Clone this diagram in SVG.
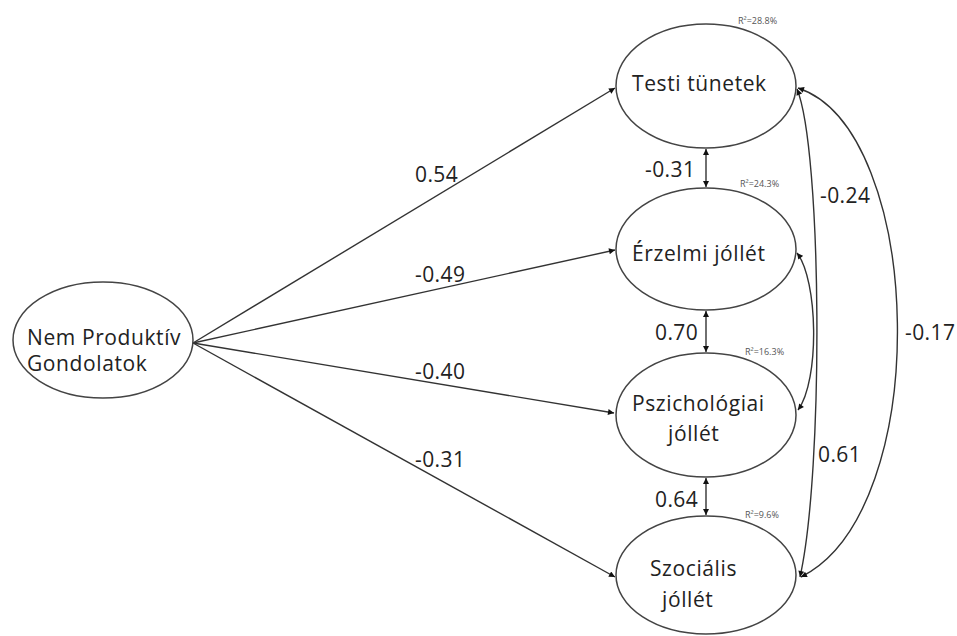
<svg xmlns="http://www.w3.org/2000/svg" width="957" height="636" viewBox="0 0 957 636">
<defs>
<marker id="ah" viewBox="0 0 10 10" refX="10" refY="5" markerWidth="7" markerHeight="6" markerUnits="userSpaceOnUse" orient="auto-start-reverse">
<path d="M0,0 L10,5 L0,10 z" fill="#111"/>
</marker>
<style>
.node{fill:#fff;stroke:#444;stroke-width:1.5}
.lbl{font-family:"Open Sans","Noto Sans",sans-serif;font-size:21px;letter-spacing:0.4px;fill:#222}
.nt{font-family:"Open Sans","Noto Sans",sans-serif;font-size:21px;letter-spacing:0.6px;fill:#222}
.r2{font-family:"Open Sans","Noto Sans",sans-serif;font-size:9px;fill:#555}
.c{fill:none;stroke:#333;stroke-width:1.4}
</style>
</defs>
<rect width="957" height="636" fill="#fff"/>
<g id="connectors">
<path class="c" d="M193,343 L615,88" marker-end="url(#ah)"/>
<path class="c" d="M193,343 L615,250" marker-end="url(#ah)"/>
<path class="c" d="M193,343 L614,413" marker-end="url(#ah)"/>
<path class="c" d="M193,343 L615,577" marker-end="url(#ah)"/>
<path class="c" d="M706,149 L706,187" marker-start="url(#ah)" marker-end="url(#ah)"/>
<path class="c" d="M706,311 L706,352" marker-start="url(#ah)" marker-end="url(#ah)"/>
<path class="c" d="M706,478 L706,515" marker-start="url(#ah)" marker-end="url(#ah)"/>
<path class="c" d="M797,89 C822,150 824,470 800,577" marker-start="url(#ah)" marker-end="url(#ah)"/>
<path class="c" d="M797,253 C818,280 820,380 798,410" marker-start="url(#ah)" marker-end="url(#ah)"/>
<path class="c" d="M798,88 C925,130 935,510 801,577" marker-start="url(#ah)" marker-end="url(#ah)"/>
<text class="lbl" x="415" y="182">0.54</text>
<text class="lbl" x="415" y="282">-0.49</text>
<text class="lbl" x="415" y="379">-0.40</text>
<text class="lbl" x="415" y="467">-0.31</text>
<text class="lbl" x="645" y="177">-0.31</text>
<text class="lbl" x="655" y="340">0.70</text>
<text class="lbl" x="655" y="507">0.64</text>
<text class="lbl" x="820" y="203">-0.24</text>
<text class="lbl" x="905" y="340">-0.17</text>
<text class="lbl" x="818" y="462">0.61</text>
</g>
<g id="nem">
<ellipse class="node" cx="103" cy="340" rx="90" ry="58"/>
<text class="nt" x="27" y="345">Nem Produktív</text>
<text class="nt" x="27" y="371">Gondolatok</text>
</g>
<g id="testi">
<ellipse class="node" cx="706" cy="86" rx="90" ry="62"/>
<text class="nt" x="632" y="91">Testi tünetek</text>
<text class="r2" x="738" y="24">R²=28.8%</text>
</g>
<g id="erzelmi">
<ellipse class="node" cx="706" cy="249" rx="90" ry="61"/>
<text class="nt" x="632" y="261">Érzelmi jóllét</text>
<text class="r2" x="740" y="187">R²=24.3%</text>
</g>
<g id="pszich">
<ellipse class="node" cx="706" cy="415" rx="90" ry="62"/>
<text class="nt" x="632" y="411">Pszichológiai</text>
<text class="nt" x="668" y="441">jóllét</text>
<text class="r2" x="745" y="355">R²=16.3%</text>
</g>
<g id="szocialis">
<ellipse class="node" cx="706" cy="575" rx="90" ry="59"/>
<text class="nt" x="650" y="576">Szociális</text>
<text class="nt" x="662" y="607">jóllét</text>
<text class="r2" x="745" y="518">R²=9.6%</text>
</g>
</svg>
